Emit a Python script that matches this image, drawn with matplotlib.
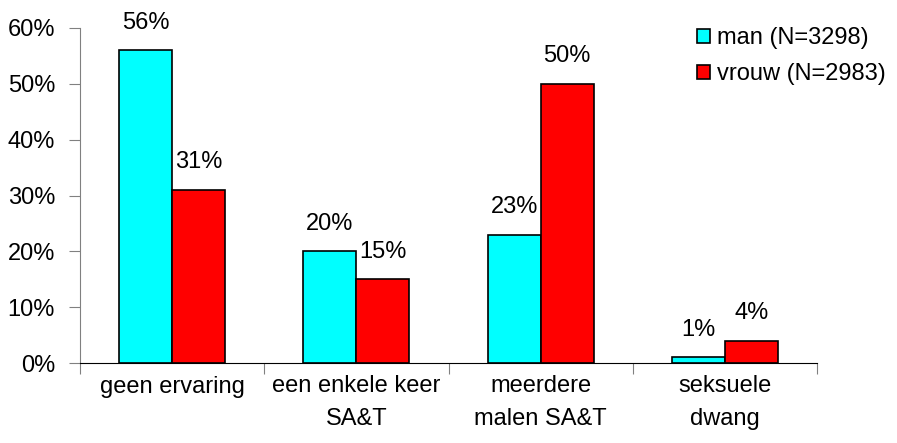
import matplotlib
matplotlib.use("Agg")
import matplotlib.pyplot as plt
import numpy as np

categories = ["geen ervaring", "een enkele keer\nSA&T", "meerdere\nmalen SA&T", "seksuele\ndwang"]
man = [56, 20, 23, 1]
vrouw = [31, 15, 50, 4]
series_labels = ["man (N=3298)", "vrouw (N=2983)"]
yticks = [0, 10, 20, 30, 40, 50, 60]

plt.rcParams['font.family'] = ['Liberation Sans', 'DejaVu Sans']
fs = 17

fig = plt.figure(figsize=(8.97, 4.43), dpi=100)
ax = fig.add_axes([80/897, 1-363/443, (817-80)/897, (363-28)/443])

x = np.arange(len(categories))
w = 0.288
b1 = ax.bar(x - w/2, man, w, color="#00FFFF", edgecolor="black", linewidth=1.2, label=series_labels[0])
b2 = ax.bar(x + w/2, vrouw, w, color="#FF0000", edgecolor="black", linewidth=1.2, label=series_labels[1])

for bars, vals in ((b1, man), (b2, vrouw)):
    for r, v in zip(bars, vals):
        ax.annotate(f"{v}%", (r.get_x() + r.get_width()/2, r.get_height()),
                    xytext=(0, 12), textcoords="offset points", ha="center", va="bottom", fontsize=fs)

ax.set_xlim(-0.5, len(categories) - 0.5)
ax.set_ylim(0, 60)
ax.set_yticks(yticks)
ax.set_yticklabels([f"{t}%" for t in yticks], fontsize=fs)
ax.set_xticks(np.arange(len(categories) + 1) - 0.5)
ax.set_xticklabels([])
ax.set_xticks(x, minor=True)
ax.set_xticklabels(categories, minor=True, fontsize=fs, linespacing=1.6)
ax.tick_params(axis="x", which="minor", length=0, pad=9)
ax.tick_params(axis="x", which="major", length=8, direction="out", color="#808080")
ax.tick_params(axis="y", length=8, direction="out", color="#808080", pad=10)
ax.spines["top"].set_visible(False)
ax.spines["right"].set_visible(False)
ax.spines["left"].set_color("#808080")
ax.spines["bottom"].set_color("black")

leg = fig.legend(handles=[b1, b2], loc="upper left", bbox_to_anchor=(697/897, 1-27/443),
                 frameon=False, fontsize=fs, handlelength=0.55, handleheight=0.55,
                 handletextpad=0.3, labelspacing=0.6, borderaxespad=0, borderpad=0)

fig.savefig("out.png", dpi=100)
